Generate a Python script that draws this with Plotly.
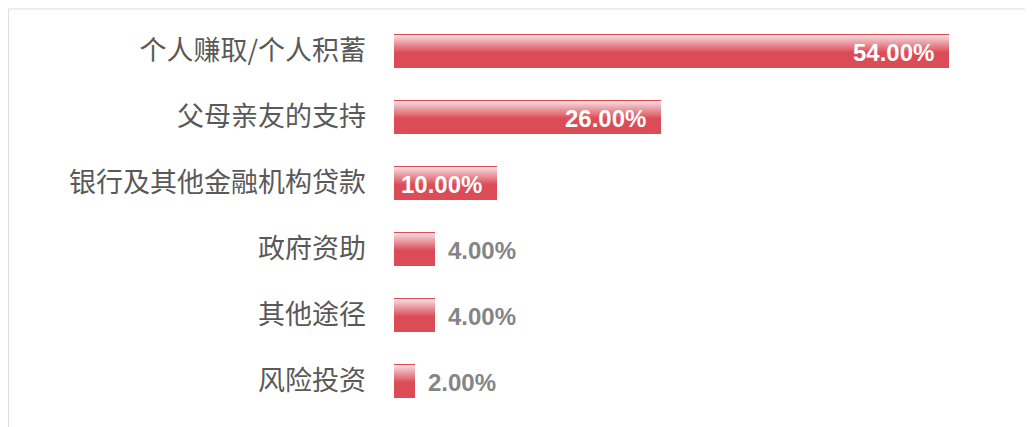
import plotly.graph_objects as go

categories = ["个人赚取/个人积蓄", "父母亲友的支持", "银行及其他金融机构贷款", "政府资助", "其他途径", "风险投资"]
values = [54, 26, 10, 4, 4, 2]
labels = ["54.00%", "26.00%", "10.00%", "4.00%", "4.00%", "2.00%"]
inside = [True, True, True, False, False, False]

RED = (219, 76, 87)
LIGHT = (246, 218, 221)
BAR_W = 0.53
TOP_LINE = 0.03
GRAD_SPAN = 0.27
N_STRIPS = 18

fig = go.Figure()
fig.add_trace(go.Bar(y=categories, x=values, orientation="h", width=BAR_W,
                     marker=dict(color="rgb(%d,%d,%d)" % RED, line=dict(width=0)),
                     hoverinfo="skip", showlegend=False))
dh = GRAD_SPAN / N_STRIPS
for k in range(N_STRIPS):
    t = k / (N_STRIPS - 1)
    c = tuple(round(LIGHT[i] + (RED[i] - LIGHT[i]) * t) for i in range(3))
    fig.add_trace(go.Bar(y=categories, x=values, orientation="h",
                         width=dh * 1.05, offset=-BAR_W / 2 + TOP_LINE + k * dh,
                         marker=dict(color="rgb(%d,%d,%d)" % c, line=dict(width=0)),
                         hoverinfo="skip", showlegend=False))

for cat, v, lab, ins in zip(categories, values, labels, inside):
    fig.add_annotation(x=v, y=cat, text="<b>%s</b>" % lab, showarrow=False,
                       xanchor="right" if ins else "left",
                       xshift=-13 if ins else 11, yshift=-1,
                       font=dict(family="Liberation Sans, Arial, sans-serif", size=24,
                                 color="#ffffff" if ins else "#858585"))

# container border (top and left edges)
fig.add_shape(type="line", xref="paper", yref="paper", x0=-0.6248, x1=1.1, y0=1.0228, y1=1.0228,
              line=dict(color="#dddddd", width=1))
fig.add_shape(type="line", xref="paper", yref="paper", x0=-0.6248, x1=-0.6248, y0=1.0228, y1=-0.1,
              line=dict(color="#dddddd", width=1))

fig.update_layout(
    barmode="overlay",
    width=1025, height=419,
    margin=dict(l=386, r=22, t=10, b=13),
    paper_bgcolor="white", plot_bgcolor="white",
    bargap=0,
    xaxis=dict(range=[0, 60], visible=False, fixedrange=True),
    yaxis=dict(autorange="reversed", showgrid=False, zeroline=False, showline=False,
               ticks="", ticklabelstandoff=27,
               tickfont=dict(family="Noto Sans CJK SC, sans-serif", size=27, color="#595959")),
    font=dict(family="Noto Sans CJK SC, sans-serif"),
)
fig.write_html("out.html")
